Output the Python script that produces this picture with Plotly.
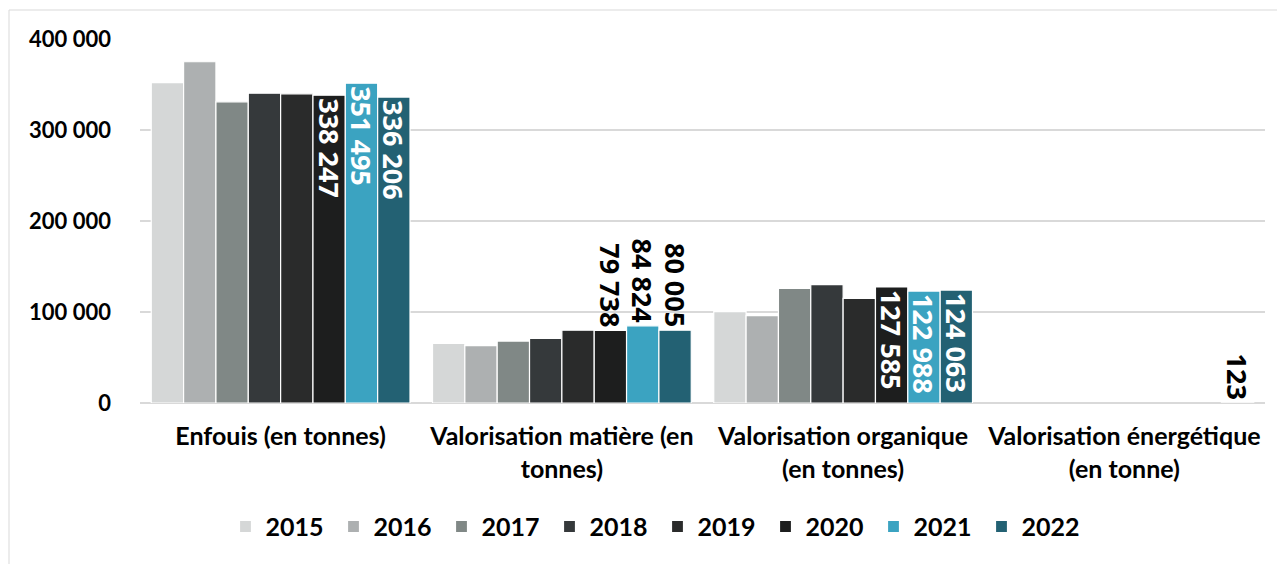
import plotly.graph_objects as go

categories = [
    "Enfouis (en tonnes)",
    "Valorisation matière (en<br>tonnes)",
    "Valorisation organique<br>(en tonnes)",
    "Valorisation énergétique<br>(en tonne)",
]
years = ["2015", "2016", "2017", "2018", "2019", "2020", "2021", "2022"]

v2015 = [352000, 65500, 100500, None]
v2016 = [375000, 63000, 96000, None]
v2017 = [331000, 68000, 126000, None]
v2018 = [340500, 71000, 130000, None]
v2019 = [339800, 80000, 115000, None]
v2020 = [338247, 79738, 127585, None]
v2021 = [351495, 84824, 122988, None]
v2022 = [336206, 80005, 124063, 123]

labeled_years = ["2020", "2021", "2022"]

colors = ["#d5d7d7", "#adb0b1", "#808886", "#35393b", "#2a2b2b", "#1d1e1e", "#3ba3c1", "#236173"]

ytick_vals = [0, 100000, 200000, 300000, 400000]
ytick_text = ["0", "100 000", "200 000", "300 000", "400 000"]

series = [v2015, v2016, v2017, v2018, v2019, v2020, v2021, v2022]


def fmt(v):
    return f"{v:,}".replace(",", " ")


fig = go.Figure()
for yr, vals, col in zip(years, series, colors):
    if yr in labeled_years:
        text = [fmt(v) if v is not None else "" for v in vals]
        pos = ["inside" if (v is not None and v > 100000) else "outside" for v in vals]
    else:
        text = None
        pos = None
    fig.add_trace(go.Bar(
        name=yr, x=categories, y=vals,
        marker=dict(color=col, line=dict(color="white", width=1.2)),
        text=text, textposition=pos if pos else "none",
        textangle=90, insidetextanchor="end", constraintext="none",
        insidetextfont=dict(color="white", size=27, family="Open Sans", weight="bold"),
        outsidetextfont=dict(color="black", size=27, family="Open Sans", weight="bold"),
        cliponaxis=False,
        hoverinfo="skip",
    ))

W, H = 1277, 556
fig.update_layout(
    width=W, height=H,
    barmode="group", bargap=0.08, bargroupgap=0,
    paper_bgcolor="white", plot_bgcolor="white",
    margin=dict(l=132, r=20, t=31, b=161),
    uniformtext=dict(minsize=27, mode="show"),
    showlegend=True,
    legend=dict(
        orientation="h", x=0.46, xanchor="center", y=-0.34, yanchor="middle",
        font=dict(family="Lato", size=25, color="black", weight="bold"),
        traceorder="normal", entrywidth=63,
    ),
    font=dict(family="Lato", color="black"),
)
fig.update_yaxes(
    range=[0, 400000], tickvals=ytick_vals, ticktext=ytick_text,
    showgrid=True, gridcolor="#d9d9d9", gridwidth=1.5,
    zeroline=True, zerolinecolor="#d9d9d9", zerolinewidth=1.5,
    tickfont=dict(family="Lato", size=22, color="black", weight="bold"),
    ticks="", ticklabelstandoff=28, showline=False,
)
fig.update_xaxes(
    tickfont=dict(family="Lato", size=25, color="black", weight="bold"),
    ticks="", showline=False, ticklabelstandoff=16,
)
fig.add_shape(
    type="rect", xref="paper", yref="paper",
    x0=(1 - 132) / 1125, x1=(1300 - 132) / 1125,
    y0=(395 - 580) / 364, y1=(395 - 2) / 364,
    line=dict(color="#d9d9d9", width=1), fillcolor="rgba(0,0,0,0)", layer="below",
)
fig.write_html("out.html")
